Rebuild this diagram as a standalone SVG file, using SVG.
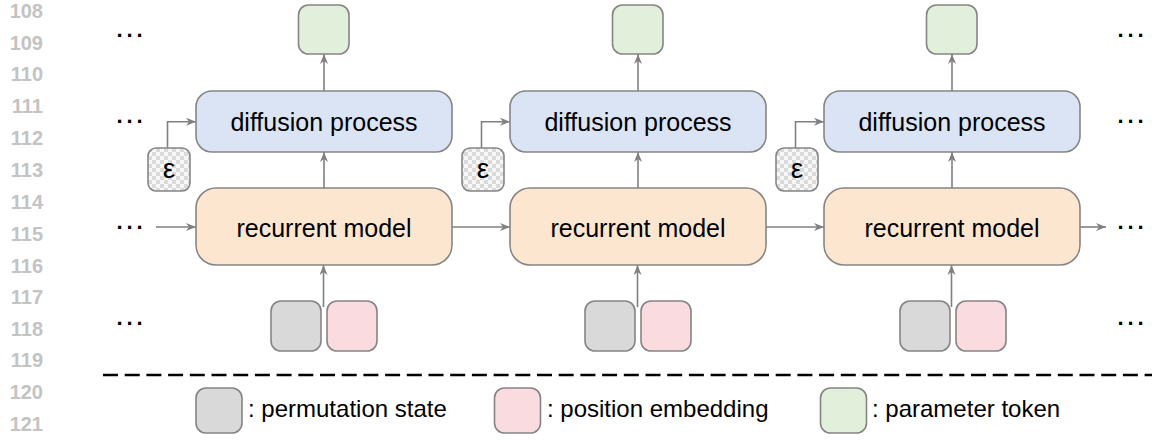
<svg xmlns="http://www.w3.org/2000/svg" width="1155" height="440" viewBox="0 0 1155 440">
<style>
.ln{font-family:"Liberation Sans",Arial,sans-serif;font-size:20px;font-weight:bold;fill:#c3c3c3;text-anchor:end}
.dots{font-family:"Liberation Sans",Arial,sans-serif;font-size:22px;font-weight:bold;letter-spacing:3.9px;fill:#000}
.lbl{font-family:"Liberation Sans",Arial,sans-serif;font-size:25px;fill:#000;text-anchor:middle}
.eps{font-family:"Liberation Sans",Arial,sans-serif;font-size:28px;fill:#000;text-anchor:middle}
.leg{font-family:"Liberation Sans",Arial,sans-serif;font-size:24px;fill:#000}
.box{stroke:#858585;stroke-width:1.6}
.diff{fill:#dbe4f4}
.rec{fill:#fde6cf}
.grn{fill:#e2efda}
.gry{fill:#d9d9d9}
.pnk{fill:#fadbe0}
.chk{fill:url(#checker)}
.conn{fill:none;stroke:#808080;stroke-width:1.6;marker-end:url(#arr)}
</style>
<defs>
<pattern id="checker" width="8" height="8" patternUnits="userSpaceOnUse">
<rect width="8" height="8" fill="#f7f7f7"/>
<rect width="4" height="4" fill="#dadada"/>
<rect x="4" y="4" width="4" height="4" fill="#dadada"/>
</pattern>
<marker id="arr" viewBox="0 0 10 8" refX="10" refY="4" markerWidth="10" markerHeight="8" markerUnits="userSpaceOnUse" orient="auto">
<path d="M0,0 L10,4 L0,8 L3,4 z" fill="#808080"/>
</marker>
</defs>
<rect width="1155" height="440" fill="#fff"/>
<g id="line-numbers">
<text class="ln" x="43" y="18">108</text>
<text class="ln" x="43" y="49.5">109</text>
<text class="ln" x="43" y="81">110</text>
<text class="ln" x="43" y="113">111</text>
<text class="ln" x="43" y="145">112</text>
<text class="ln" x="43" y="177">113</text>
<text class="ln" x="43" y="209">114</text>
<text class="ln" x="43" y="241">115</text>
<text class="ln" x="43" y="273">116</text>
<text class="ln" x="43" y="304">117</text>
<text class="ln" x="43" y="336">118</text>
<text class="ln" x="43" y="367">119</text>
<text class="ln" x="43" y="399">120</text>
<text class="ln" x="43" y="431">121</text>
</g>
<g id="ellipses">
<text class="dots" x="116.5" y="36.5">...</text>
<text class="dots" x="116.5" y="123">...</text>
<text class="dots" x="116.5" y="228.5">...</text>
<text class="dots" x="116.5" y="324.5">...</text>
<text class="dots" x="1117.5" y="36.5">...</text>
<text class="dots" x="1117.5" y="123">...</text>
<text class="dots" x="1117.5" y="228.5">...</text>
<text class="dots" x="1117.5" y="324.5">...</text>
</g>
<g id="connectors">
<path class="conn" d="M324,91 V54"/>
<path class="conn" d="M638,91 V54"/>
<path class="conn" d="M952,91 V54"/>
<path class="conn" d="M324,188 V152"/>
<path class="conn" d="M638,188 V152"/>
<path class="conn" d="M952,188 V152"/>
<path class="conn" d="M323.5,307 V265"/>
<path class="conn" d="M637.5,307 V265"/>
<path class="conn" d="M951.5,307 V265"/>
<path class="conn" d="M167.5,148 V121.7 H196"/>
<path class="conn" d="M481.5,148 V121.7 H510"/>
<path class="conn" d="M795.5,148 V121.7 H824"/>
<path class="conn" d="M156,227 H196"/>
<path class="conn" d="M452,227 H510"/>
<path class="conn" d="M766,227 H824"/>
<path class="conn" d="M1080,227 H1106"/>
</g>
<g id="param-token-1"><rect class="box grn" x="298.5" y="5" width="50.5" height="49" rx="10"/></g>
<g id="param-token-2"><rect class="box grn" x="612.5" y="5" width="50.5" height="49" rx="10"/></g>
<g id="param-token-3"><rect class="box grn" x="926.5" y="5" width="50.5" height="49" rx="10"/></g>
<g id="diffusion-1"><rect class="box diff" x="196" y="91" width="256" height="61" rx="16"/><text class="lbl" x="324" y="131">diffusion process</text></g>
<g id="diffusion-2"><rect class="box diff" x="510" y="91" width="256" height="61" rx="16"/><text class="lbl" x="638" y="131">diffusion process</text></g>
<g id="diffusion-3"><rect class="box diff" x="824" y="91" width="256" height="61" rx="16"/><text class="lbl" x="952" y="131">diffusion process</text></g>
<g id="eps-1"><rect class="box chk" x="148" y="148" width="42" height="43" rx="8"/><text class="eps" x="169" y="178">ε</text></g>
<g id="eps-2"><rect class="box chk" x="462" y="148" width="42" height="43" rx="8"/><text class="eps" x="483" y="178">ε</text></g>
<g id="eps-3"><rect class="box chk" x="776" y="148" width="42" height="43" rx="8"/><text class="eps" x="797" y="178">ε</text></g>
<g id="recurrent-1"><rect class="box rec" x="196" y="188" width="256" height="77" rx="20"/><text class="lbl" x="324" y="237">recurrent model</text></g>
<g id="recurrent-2"><rect class="box rec" x="510" y="188" width="256" height="77" rx="20"/><text class="lbl" x="638" y="237">recurrent model</text></g>
<g id="recurrent-3"><rect class="box rec" x="824" y="188" width="256" height="77" rx="20"/><text class="lbl" x="952" y="237">recurrent model</text></g>
<g id="inputs-1"><rect class="box gry" x="271" y="301" width="50" height="50" rx="10"/><rect class="box pnk" x="327" y="301" width="50" height="50" rx="10"/></g>
<g id="inputs-2"><rect class="box gry" x="585" y="301" width="50" height="50" rx="10"/><rect class="box pnk" x="641" y="301" width="50" height="50" rx="10"/></g>
<g id="inputs-3"><rect class="box gry" x="900" y="301" width="50" height="50" rx="10"/><rect class="box pnk" x="956" y="301" width="50" height="50" rx="10"/></g>
<line x1="103" y1="375" x2="1152" y2="375" stroke="#000" stroke-width="2.4" stroke-dasharray="15 6.7"/>
<g id="legend">
<rect class="box gry" x="196" y="388" width="46" height="45" rx="10"/>
<text class="leg" x="248" y="417">: permutation state</text>
<rect class="box pnk" x="494.5" y="388" width="46" height="45" rx="10"/>
<text class="leg" x="547" y="417">: position embedding</text>
<rect class="box grn" x="820.5" y="388" width="46" height="45" rx="10"/>
<text class="leg" x="872" y="417">: parameter token</text>
</g>
</svg>
